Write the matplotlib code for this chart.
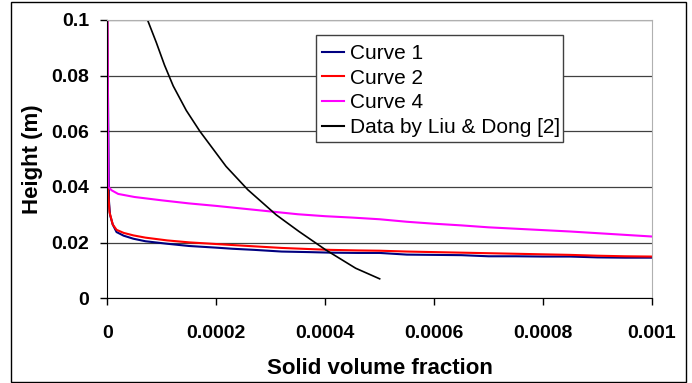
import matplotlib
matplotlib.use("Agg")
import matplotlib.pyplot as plt
from matplotlib.patches import Rectangle

plt.rcParams['font.family'] = ['Liberation Sans', 'DejaVu Sans']

# Curve 1 (navy)
x1 = [0, 0.000003, 0.000005, 0.00001, 0.000017, 0.00003, 0.000048, 0.00007,
      0.00011, 0.00015, 0.0002, 0.00023, 0.00027, 0.00032, 0.00037, 0.00041,
      0.00046, 0.0005, 0.00055, 0.0006, 0.00065, 0.0007, 0.00075, 0.0008,
      0.00085, 0.0009, 0.00095, 0.001]
y1 = [0.1, 0.035, 0.030, 0.0265, 0.0238, 0.0225, 0.0214, 0.0205,
      0.0196, 0.0188, 0.0182, 0.0178, 0.0174, 0.0168, 0.0166, 0.0164,
      0.0163, 0.0163, 0.0157, 0.0156, 0.0155, 0.0151, 0.0151, 0.0150,
      0.0150, 0.0147, 0.0146, 0.0146]

# Curve 2 (red)
x2 = [0, 0.000001, 0.000004, 0.00001, 0.000017, 0.00003, 0.000048, 0.00007,
      0.00011, 0.00015, 0.0002, 0.00025, 0.00032, 0.00037, 0.00041, 0.00046,
      0.0005, 0.00055, 0.0006, 0.00065, 0.0007, 0.00075, 0.0008, 0.00085,
      0.0009, 0.00095, 0.001]
y2 = [0.1, 0.04, 0.031, 0.0265, 0.0246, 0.0235, 0.0226, 0.0218,
      0.0208, 0.0201, 0.0195, 0.0189, 0.0181, 0.0177, 0.0174, 0.0172,
      0.0171, 0.0168, 0.0166, 0.0164, 0.0162, 0.0160, 0.0158, 0.0156,
      0.0153, 0.0151, 0.0150]

# Curve 4 (magenta)
x4 = [0, 0.000002, 0.000008, 0.00002, 0.00005, 0.0001, 0.00015, 0.0002,
      0.00025, 0.0003, 0.00035, 0.0004, 0.00045, 0.0005, 0.00055, 0.0006,
      0.00065, 0.0007, 0.00075, 0.0008, 0.00085, 0.0009, 0.00095, 0.001]
y4 = [0.1, 0.04, 0.0388, 0.0375, 0.0364, 0.0352, 0.0341, 0.0332,
      0.0322, 0.0312, 0.0302, 0.0295, 0.0290, 0.0284, 0.0275, 0.0268,
      0.0262, 0.0255, 0.0250, 0.0245, 0.0240, 0.0234, 0.0228, 0.0222]

# Data by Liu & Dong [2]
xd = [0.0000739, 0.00009, 0.000105, 0.000121, 0.000145, 0.00017, 0.000218,
      0.000258, 0.00031, 0.000352, 0.000401, 0.000456, 0.0005]
yd = [0.1, 0.0919, 0.0838, 0.0763, 0.0675, 0.06, 0.0474,
      0.039, 0.030, 0.024, 0.0174, 0.0108, 0.007]

xticks = [0, 0.0002, 0.0004, 0.0006, 0.0008, 0.001]
xtick_labels = ['0', '0.0002', '0.0004', '0.0006', '0.0008', '0.001']
yticks = [0, 0.02, 0.04, 0.06, 0.08, 0.1]
ytick_labels = ['0', '0.02', '0.04', '0.06', '0.08', '0.1']

W, H = 692, 383
fig = plt.figure(figsize=(W / 100, H / 100), dpi=100)
ax = fig.add_axes([107.3 / W, 1 - 298.3 / H, (652 - 107.3) / W, (298.3 - 20) / H])

ax.plot(x1, y1, color='#000080', lw=1.5, label='Curve 1')
ax.plot(x2, y2, color='#ff0000', lw=1.5, label='Curve 2')
ax.plot(x4, y4, color='#ff00ff', lw=1.5, label='Curve 4')
ax.plot(xd, yd, color='black', lw=1.2, label='Data by Liu & Dong [2]')

ax.set_xlim(0, 0.001)
ax.set_ylim(0, 0.1)
ax.set_xticks(xticks)
ax.set_xticklabels(xtick_labels)
ax.set_yticks(yticks)
ax.set_yticklabels(ytick_labels)
ax.yaxis.grid(True, color='#404040', lw=0.9)
ax.set_axisbelow(True)

for lab in ax.get_xticklabels() + ax.get_yticklabels():
    lab.set_fontweight('bold')
ax.tick_params(axis='x', direction='out', length=5, width=1, pad=14, labelsize=14)
ax.tick_params(axis='y', direction='out', length=5, width=1, pad=8, labelsize=14)

for s in ['top', 'right']:
    ax.spines[s].set_color('#b0b0b0')
for s in ['left', 'bottom']:
    ax.spines[s].set_color('black')

ax.set_xlabel('Solid volume fraction', fontsize=16, fontweight='bold', labelpad=12)
ax.set_ylabel('Height (m)', fontsize=16, fontweight='bold', labelpad=6)

# legend box drawn separately, behind the legend entries
box = Rectangle((315.7 / W, 1 - 141.7 / H), (562.7 - 315.7) / W,
                (141.7 - 35) / H, transform=fig.transFigure,
                facecolor='white', edgecolor='#404040', lw=1,
                zorder=4, clip_on=False)
ax.add_patch(box)
leg = ax.legend(loc='upper left', bbox_to_anchor=(322 / W, 1 - 44 / H),
                bbox_transform=fig.transFigure, fontsize=15, frameon=False,
                borderaxespad=0, borderpad=0, labelspacing=0.27,
                handlelength=1.05, handletextpad=0.3)
for line in leg.get_lines():
    line.set_linewidth(1.5)
leg.set_zorder(5)

fig.patches.append(Rectangle((11 / W, 1.5 / H), (686 - 11) / W, (381 - 1.5) / H,
                             transform=fig.transFigure, fill=False,
                             edgecolor='black', lw=1))

fig.savefig('out.png', dpi=100)
